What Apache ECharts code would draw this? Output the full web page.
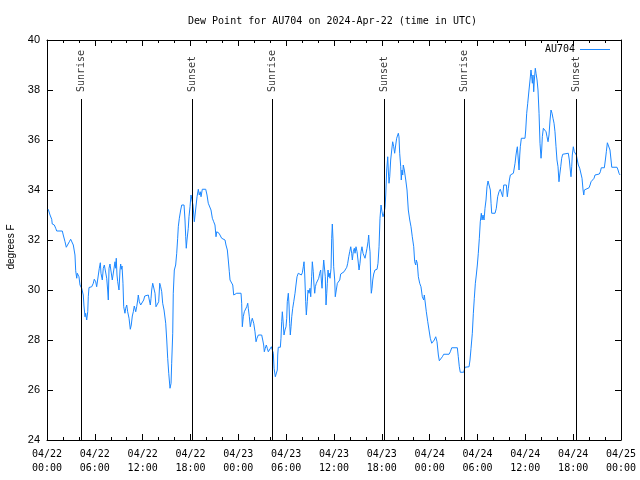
<!DOCTYPE html>
<html><head><meta charset="utf-8">
<script src="https://cdn.jsdelivr.net/npm/echarts@6/dist/echarts.min.js"></script>
<style>html,body{margin:0;padding:0;background:#fff}#c{width:640px;height:480px}</style>
</head><body><div id="c"></div>
<script>
// Dew point readings: [hours since 2024-04-22 00:00 UTC, degrees F]
const readingsApr22 = [
[0.16,33.23],[0.38,33.0],[0.59,32.83],[0.66,32.64],[0.92,32.6],[1.09,32.47],[1.22,32.36],[1.92,32.36],[2.04,32.2],[2.26,31.93],
[2.42,31.71],[2.67,31.71],[2.80,31.93],[2.97,32.03],[3.17,32.03],[3.30,31.8],[3.51,31.4],[3.60,30.77],[3.73,30.47],[3.80,30.67],
[3.93,30.73],[4.01,30.53],[4.14,30.2],[4.35,30.07],[4.55,29.8],[4.64,29.36],[4.77,28.93],[4.85,29.07],[4.98,28.8],[5.11,29.13],
[5.18,29.73],[5.27,30.1],[5.61,30.13],[5.81,30.27],[5.93,30.43],[6.11,30.33],[6.23,30.13],[6.44,30.13],[6.56,30.87],[6.69,31.09],
[6.77,30.67],[6.94,30.4],[7.06,30.87],[7.19,31.0],[7.36,31.0],[7.49,30.47],[7.61,30.0],[7.69,29.6],[7.78,30.87],[7.90,31.04],
[8.12,31.04],[8.19,30.4],[8.32,30.47],[8.44,30.33],[8.53,31.13],[8.62,30.87],[8.69,31.27],[8.78,30.6],[8.87,30.33],[9.03,30.0],
[9.16,30.8],[9.24,31.04],[9.32,30.83],[9.41,30.96],[9.53,30.27],[9.62,29.33],[9.78,29.07],[9.87,29.27],[10.00,29.4],[10.12,29.13],
[10.29,28.87],[10.45,28.43],[10.57,28.6],[10.70,28.96],[10.83,29.13],[10.95,29.36],[11.13,29.13],[11.25,29.33],[11.38,29.6],[11.45,29.8],
[11.58,29.53],[11.75,29.4],[11.95,29.4],[12.13,29.6],[12.26,29.76],[12.51,29.83],[12.71,29.8],[12.83,29.6],[12.96,29.4],[13.05,29.67],
[13.13,30.0],[13.26,30.27],[13.46,30.31],[13.55,29.87],[13.67,29.33],[13.89,29.27],[14.01,29.53],[14.14,30.27],[14.26,30.13],[14.39,29.93],
[14.51,29.47],[14.68,29.2],[14.89,28.67],[15.02,28.0],[15.14,27.27],[15.27,26.67],[15.43,26.07],[15.56,26.27],[15.64,27.07],[15.77,28.27],
[15.84,29.87],[15.97,30.8],[16.14,31.0],[16.27,31.47],[16.39,32.07],[16.47,32.53],[16.60,32.87],[16.77,33.2],[16.90,33.4],[17.19,33.4],
[17.31,32.8],[17.40,32.13],[17.47,31.67],[17.56,32.0],[17.72,32.47],[17.81,32.93],[17.94,33.33],[18.06,33.8],[18.15,33.73],[18.31,33.4],
[18.48,32.73],[18.73,32.73],[18.82,33.73],[18.98,34.03],[19.10,33.8],[19.23,33.93],[19.32,33.73],[19.48,34.03],[19.91,34.03],[20.07,33.8],
[20.23,33.47],[20.45,33.4],[20.57,33.2],[20.74,32.87],[20.91,32.73],[21.07,32.6],[21.20,32.13],[21.29,32.33],[21.41,32.4],[21.58,32.27],
[21.74,32.2],[21.91,32.07],[22.12,32.03],[22.33,32.0],[22.45,31.8],[22.62,31.6],[22.74,31.2],[22.87,30.73],[22.96,30.4],[23.17,30.4],
[23.30,30.2],[23.42,29.8],[23.67,29.8],[23.80,29.87]
];
const readingsApr23 = [
[24.34,29.87],[24.42,29.47],[24.50,28.53],[24.62,28.93],[24.75,29.13],[24.92,29.13],[25.05,29.33],[25.18,29.47],[25.25,29.27],[25.38,28.93],
[25.50,28.53],[25.63,28.73],[25.75,28.87],[25.93,28.67],[26.09,28.33],[26.22,27.93],[26.34,28.07],[26.51,28.2],[26.93,28.2],[27.06,28.0],
[27.18,27.8],[27.26,27.53],[27.38,27.67],[27.51,27.8],[27.63,27.67],[27.76,27.53],[28.01,27.53],[28.14,27.73],[28.26,27.8],[28.39,27.47],
[28.48,26.87],[28.64,26.53],[28.76,26.47],[28.89,26.8],[28.94,27.4],[29.01,27.71],[29.27,27.71],[29.35,28.07],[29.44,28.73],[29.52,29.13],
[29.60,28.8],[29.73,28.2],[29.85,28.4],[29.98,28.53],[30.07,28.87],[30.14,29.53],[30.27,29.87],[30.36,29.4],[30.44,28.67],[30.52,28.2],
[30.61,28.53],[30.70,28.93],[30.82,29.27],[30.95,29.53],[31.11,29.87],[31.23,30.2],[31.36,30.53],[31.52,30.67],[31.77,30.67],[31.90,30.6],
[32.03,30.69],[32.15,30.93],[32.24,31.13],[32.33,30.6],[32.45,29.53],[32.53,29.0],[32.65,29.53],[32.74,30.0],[32.87,29.87],[32.99,30.07],
[33.08,29.73],[33.20,30.53],[33.28,31.13],[33.40,30.73],[33.49,30.2],[33.58,29.87],[33.66,30.13],[33.78,30.27],[33.96,30.29],[34.08,30.47],
[34.21,30.67],[34.33,30.8],[34.41,30.4],[34.50,30.07],[34.62,30.8],[34.71,31.2],[34.84,31.27],[34.91,30.53],[35.00,29.4],[35.09,29.87],
[35.16,30.27],[35.25,30.8],[35.34,30.53],[35.41,30.67],[35.50,30.47],[35.63,30.87],[35.71,32.07],[35.79,32.64],[35.88,32.0],[35.96,30.93],
[36.09,30.4],[36.16,29.73],[36.29,30.0],[36.42,30.27],[36.59,30.29],[36.72,30.4],[36.84,30.64],[37.04,30.69],[37.26,30.73],[37.47,30.73],
[37.60,30.91],[37.72,31.07],[37.85,31.33],[37.97,31.53],[38.10,31.73],[38.22,31.47],[38.30,31.2],[38.42,31.53],[38.55,31.67],[38.64,31.47],
[38.76,31.73],[38.89,31.53],[39.01,31.2],[39.14,30.8],[39.26,31.07],[39.39,31.53],[39.51,31.73],[39.64,31.47],[39.76,31.4],[39.89,31.27],
[40.02,31.47],[40.14,31.67],[40.27,31.93],[40.35,32.2],[40.43,31.8],[40.52,31.53],[40.61,30.4],[40.68,29.87],[40.77,30.07],[40.86,30.4],
[40.98,30.64],[41.14,30.8],[41.40,30.83],[41.52,31.07],[41.65,31.73],[41.77,32.87],[41.90,33.4],[42.02,33.13],[42.15,32.93],[42.27,33.07],
[42.40,33.3],[42.49,33.8],[42.61,34.8],[42.74,35.33],[42.81,34.8],[42.90,34.27],[42.99,34.53],[43.11,35.2],[43.24,35.6],[43.36,35.93],
[43.49,35.73],[43.61,35.47],[43.74,35.8],[43.86,36.07],[43.99,36.13],[44.07,36.27],[44.15,36.13],[44.24,35.47],[44.37,34.93],[44.44,34.4],
[44.53,34.8],[44.62,34.6],[44.69,35.0],[44.82,34.8],[45.00,34.4],[45.16,34.0],[45.32,33.2],[45.50,32.8],[45.66,32.53],[45.82,32.13],
[46.00,31.73],[46.12,31.13],[46.25,31.0],[46.32,31.2],[46.45,31.07],[46.58,30.53],[46.75,30.27],[46.91,30.13],[47.08,29.73],[47.25,29.6],
[47.33,29.8],[47.45,29.73],[47.58,29.13],[47.76,28.73],[47.92,28.4]
];
const readingsApr24 = [
[48.08,28.07],[48.26,27.87],[48.46,27.87],[48.58,28.0],[48.76,28.13],[48.92,27.93],[49.09,27.4],[49.21,27.17],[49.42,27.17],[49.59,27.33],
[49.76,27.43],[50.43,27.43],[50.59,27.53],[50.77,27.69],[51.47,27.69],[51.59,27.33],[51.72,26.93],[51.84,26.71],[52.27,26.71],[52.43,26.91],
[52.65,26.93],[52.94,26.93],[53.06,27.2],[53.19,27.67],[53.35,28.27],[53.48,29.07],[53.60,29.67],[53.73,30.27],[53.85,30.6],[53.98,31.0],
[54.10,31.47],[54.23,32.07],[54.35,32.73],[54.48,33.07],[54.57,32.8],[54.69,33.0],[54.82,32.8],[54.94,33.27],[55.07,33.6],[55.19,34.13],
[55.32,34.36],[55.48,34.36],[55.61,34.0],[55.70,33.47],[55.78,33.07],[56.20,33.07],[56.36,33.27],[56.53,33.73],[56.70,33.93],[56.86,34.03],
[57.04,34.0],[57.16,33.73],[57.29,34.2],[57.45,34.27],[57.62,34.2],[57.74,33.73],[57.87,34.07],[58.00,34.4],[58.12,34.6],[58.25,34.67],
[58.37,34.6],[58.50,34.67],[58.62,34.73],[58.71,35.07],[58.83,35.4],[58.92,35.6],[59.00,35.73],[59.12,35.2],[59.21,34.8],[59.30,35.4],
[59.37,35.73],[59.50,36.07],[59.96,36.07],[60.05,36.4],[60.17,37.07],[60.30,37.47],[60.46,38.0],[60.59,38.4],[60.71,38.8],[60.80,38.53],
[60.88,38.27],[60.96,38.6],[61.05,37.93],[61.13,38.4],[61.25,38.87],[61.34,38.67],[61.47,38.4],[61.59,38.0],[61.72,37.07],[61.84,35.87],
[61.97,35.27],[62.05,35.6],[62.13,36.13],[62.26,36.47],[62.47,36.47],[62.60,36.33],[62.72,36.13],[62.85,35.93],[62.97,36.2],[63.10,36.8],
[63.22,37.2],[63.35,37.07],[63.47,36.87],[63.60,36.67],[63.72,36.33],[63.85,35.73],[63.97,35.2],[64.10,34.93],[64.22,34.33],[64.31,34.6],
[64.44,34.93],[64.56,35.27],[64.69,35.43],[64.89,35.47],[65.39,35.47],[65.52,35.2],[65.64,34.8],[65.73,34.53],[65.82,34.93],[65.89,35.4],
[66.02,35.73],[66.14,35.53],[66.27,35.47],[66.40,35.4],[66.52,35.2],[66.65,35.0],[66.82,34.87],[66.99,34.87],[67.11,34.47],[67.24,34.0],
[67.33,33.8],[67.40,34.0],[67.53,34.07],[67.99,34.09],[68.12,34.2],[68.24,34.33],[68.49,34.37],[68.62,34.47],[68.74,34.6],[69.28,34.64],
[69.41,34.73],[69.53,34.89],[69.91,34.89],[70.04,35.2],[70.16,35.53],[70.29,35.89],[70.50,35.89],[70.62,35.6],[70.75,35.2],[70.84,34.91],
[71.50,34.91],[71.63,34.8],[71.75,34.67],[71.88,34.6]
];
const eventNames = ['Sunrise','Sunset','Sunrise','Sunset','Sunrise','Sunset'];
const eventHours = [4.33, 18.23, 28.26, 42.31, 52.35, 66.40];
const xTickLabels = ['04/22\n00:00','04/22\n06:00','04/22\n12:00','04/22\n18:00','04/23\n00:00','04/23\n06:00',
  '04/23\n12:00','04/23\n18:00','04/24\n00:00','04/24\n06:00','04/24\n12:00','04/24\n18:00','04/25\n00:00'];
const yMin = 24, yMax = 40, yStep = 2;
const xMin = 0, xMax = 72, xStep = 6;
const eventLineTop = 37.64;
const eventLabelBase = 37.92;

const readings = readingsApr22.concat(readingsApr23, readingsApr24);
const mono = 'DejaVu Sans Mono';
const sans = 'Liberation Sans';
const chart = echarts.init(document.getElementById('c'), null, {renderer: 'canvas'});

function makeX(position, showLabels) {
  return {
    type: 'value', min: xMin, max: xMax, interval: xStep, position: position,
    axisLine: {show: true, onZero: false, lineStyle: {color: '#000', width: 1}},
    axisTick: {show: true, inside: true, length: 6, lineStyle: {color: '#000', width: 1}},
    minorTick: {show: true, splitNumber: 3, length: 3, lineStyle: {color: '#000', width: 1}},
    splitLine: {show: false}, minorSplitLine: {show: false},
    axisLabel: showLabels ? {
      show: true, margin: 7, fontFamily: mono, fontSize: 10, color: '#000', lineHeight: 14,
      formatter: v => xTickLabels[Math.round((v - xMin) / xStep)]
    } : {show: false}
  };
}
function makeY(position, showLabels) {
  const ax = {
    type: 'value', min: yMin, max: yMax, interval: yStep, position: position,
    axisLine: {show: true, onZero: false, lineStyle: {color: '#000', width: 1}},
    axisTick: {show: true, inside: true, length: 6, lineStyle: {color: '#000', width: 1}},
    splitLine: {show: false},
    axisLabel: showLabels ? {show: true, margin: 7, fontFamily: sans, fontSize: 11, color: '#000'} : {show: false}
  };
  if (showLabels) {
    ax.name = 'degrees F';
    ax.nameLocation = 'middle';
    ax.nameGap = 31;
    ax.nameTextStyle = {fontFamily: sans, fontSize: 10, color: '#000', padding: [0, 14, 0, 0]};
  }
  return ax;
}

chart.setOption({
  animation: false,
  backgroundColor: '#fff',
  title: {
    text: 'Dew Point for AU704 on 2024-Apr-22 (time in UTC)',
    left: 183, top: 11,
    textStyle: {fontFamily: mono, fontSize: 10, fontWeight: 'normal', color: '#000'}
  },
  legend: {
    data: [{name: 'AU704', icon: 'rect'}], right: 25, top: 39, align: 'right',
    itemWidth: 30, itemHeight: 1,
    textStyle: {fontFamily: mono, fontSize: 10, color: '#000', lineHeight: 11}
  },
  grid: {left: 47, right: 19, top: 40, bottom: 40, containLabel: false, outerBoundsMode: 'none'},
  xAxis: [makeX('bottom', true), makeX('top', false)],
  yAxis: [makeY('left', true), makeY('right', false)],
  series: [
    {
      name: 'AU704', type: 'line', data: readings,
      symbol: 'none', smooth: false,
      lineStyle: {color: '#1b87ff', width: 1},
      itemStyle: {color: '#1b87ff'},
      z: 3,
      markLine: {
        silent: true, symbol: 'none', animation: false,
        lineStyle: {color: '#000', width: 1, type: 'solid'},
        label: {show: false},
        data: eventHours.map(h => [{coord: [h, yMin]}, {coord: [h, eventLineTop]}])
      }
    },
    {
      name: 'events', type: 'scatter', symbolSize: 1,
      itemStyle: {color: 'rgba(0,0,0,0)'},
      silent: true,
      data: eventHours.map((h, i) => ({value: [h, eventLabelBase], name: eventNames[i]})),
      label: {
        show: true, position: 'inside', rotate: 90, align: 'left', verticalAlign: 'middle',
        formatter: p => p.name, fontFamily: mono, fontSize: 10, color: '#000'
      },
      z: 4
    }
  ]
});
</script>
</body></html>
